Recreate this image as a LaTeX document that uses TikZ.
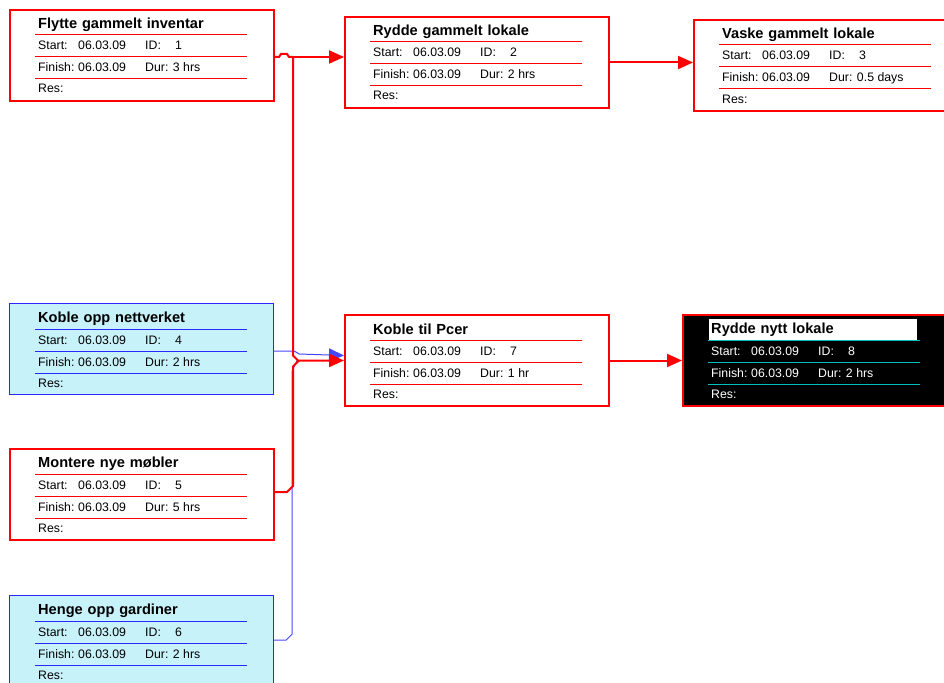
\documentclass[tikz,border=0pt]{standalone}
\usepackage{fontspec}
\setmainfont{Liberation Sans}
\usetikzlibrary{calc,arrows.meta}
\tikzset{>={Triangle[length=15pt,width=13pt]}}

\definecolor{msred}{RGB}{255,0,0}
\definecolor{msblue}{RGB}{40,40,255}
\definecolor{mslink}{RGB}{70,70,255}
\definecolor{mscyan}{RGB}{200,242,250}
\definecolor{msteal}{RGB}{0,190,190}

\tikzset{
  taskframe/.style={rectangle,anchor=north west,inner sep=0pt,
    minimum width=264pt,minimum height=91pt,draw=msred,line width=2pt,fill=white},
  bluebox/.style={draw=msblue,line width=1.2pt,fill=mscyan},
  blackbox/.style={fill=black,minimum width=262pt},
  tasktitle/.style={anchor=west,inner xsep=2pt,inner ysep=0pt,minimum height=22pt,
    text width=204pt,align=left,font=\fontsize{14.6}{17}\selectfont\bfseries},
  taskrow/.style={anchor=base west,inner sep=0pt,font=\fontsize{12.3}{14}\selectfont},
  critlink/.style={draw=msred,line width=2pt},
  freelink/.style={draw=mslink,line width=1pt},
}

% name, position, title, ID, duration, frame style, rule colour, text style, title style
\newcommand{\taskbox}[9]{%
  \node[taskframe,#6] (#1) at #2 {};
  \node[tasktitle,#8,#9] (#1t) at ($(#1.north west)+(27,15.5)$) {#3};
  \foreach \ry in {26,48,70}
    \draw[draw=#7,line width=1pt] ($(#1.north west)+(26,\ry)$) -- ($(#1.north west)+(238,\ry)$);
  \node[taskrow,#8] (#1s) at ($(#1.north west)+(29,41)$) {Start:};
  \node[taskrow,#8] (#1sd) at ($(#1.north west)+(69,41)$) {06.03.09};
  \node[taskrow,#8] (#1i) at ($(#1.north west)+(136,41)$) {ID:};
  \node[taskrow,#8] (#1id) at ($(#1.north west)+(166,41)$) {#4};
  \node[taskrow,#8] (#1f) at ($(#1.north west)+(29,63)$) {Finish:};
  \node[taskrow,#8] (#1fd) at ($(#1.north west)+(69,63)$) {06.03.09};
  \node[taskrow,#8] (#1d) at ($(#1.north west)+(136,63)$) {Dur: #5};
  \node[taskrow,#8] (#1r) at ($(#1.north west)+(29,84)$) {Res:};
}

\begin{document}
\begin{tikzpicture}[x=1pt,y=-1pt]
  \useasboundingbox (0,0) rectangle (944,682);
  \clip (0,0) rectangle (944,682);

  % Tasks
  \taskbox{flytte}{(9,9)}{Flytte gammelt inventar}{1}{3 hrs}{}{msred}{}{}
  \taskbox{ryddeg}{(344,16)}{Rydde gammelt lokale}{2}{2 hrs}{}{msred}{}{}
  \taskbox{vaske}{(693,19)}{Vaske gammelt lokale}{3}{0.5 days}{}{msred}{}{}
  \taskbox{nettverk}{(9,303)}{Koble opp nettverket}{4}{2 hrs}{bluebox}{msblue}{}{}
  \taskbox{mobler}{(9,448)}{Montere nye møbler}{5}{5 hrs}{}{msred}{}{}
  \taskbox{gardin}{(9,595)}{Henge opp gardiner}{6}{2 hrs}{bluebox}{msblue}{}{}
  \taskbox{pcer}{(344,314)}{Koble til Pcer}{7}{1 hr}{}{msred}{}{}
  \taskbox{nytt}{(682,314)}{Rydde nytt lokale}{8}{2 hrs}{blackbox}{msteal}{text=white}{fill=white,text=black}

  % Non-critical links
  \draw[freelink,->] ($(nettverk.north east)+(0,48)$) coordinate (n1)
    -- ($(n1)+(20,0)$) -- ($(n1)+(25,3)$) -- ($(pcer.west)+(0,-5)$);
  \draw[freelink] ($(gardin.north east)+(0,45)$) coordinate (g1)
    -- ($(g1)+(12,0)$) -- ($(g1)+(18,-6)$) -- ($(g1 -| n1)+(18,-269)$)
    -- ($(pcer.west)+(-47,0)$);

  % Critical links
  \draw[critlink] ($(flytte.north east)+(0,48)$) coordinate (f1)
    -- ++(4,0) -- ++(2,-3) -- ++(6,0) -- ++(2,3) -- ($(f1)+(18,0)$) coordinate (f2);
  \draw[critlink,->] (f2) -- (f2 -| ryddeg.west);
  \draw[critlink,->] (f2) -- ($(f2 |- pcer.west)+(0,-5)$)
    -- ($(f2 |- pcer.west)+(5,0)$) -- (pcer.west);
  \draw[critlink] ($(mobler.north east)+(0,44)$) coordinate (m1)
    -- ($(m1)+(12,0)$) -- ($(m1)+(18,-6)$) -- ($(f2 |- pcer.west)+(0,6)$)
    -- ($(f2 |- pcer.west)+(6,0)$);
  \draw[critlink,->] (ryddeg.east) -- (ryddeg.east -| vaske.west);
  \draw[critlink,->] (pcer.east) -- (pcer.east -| nytt.west);
\end{tikzpicture}
\end{document}
